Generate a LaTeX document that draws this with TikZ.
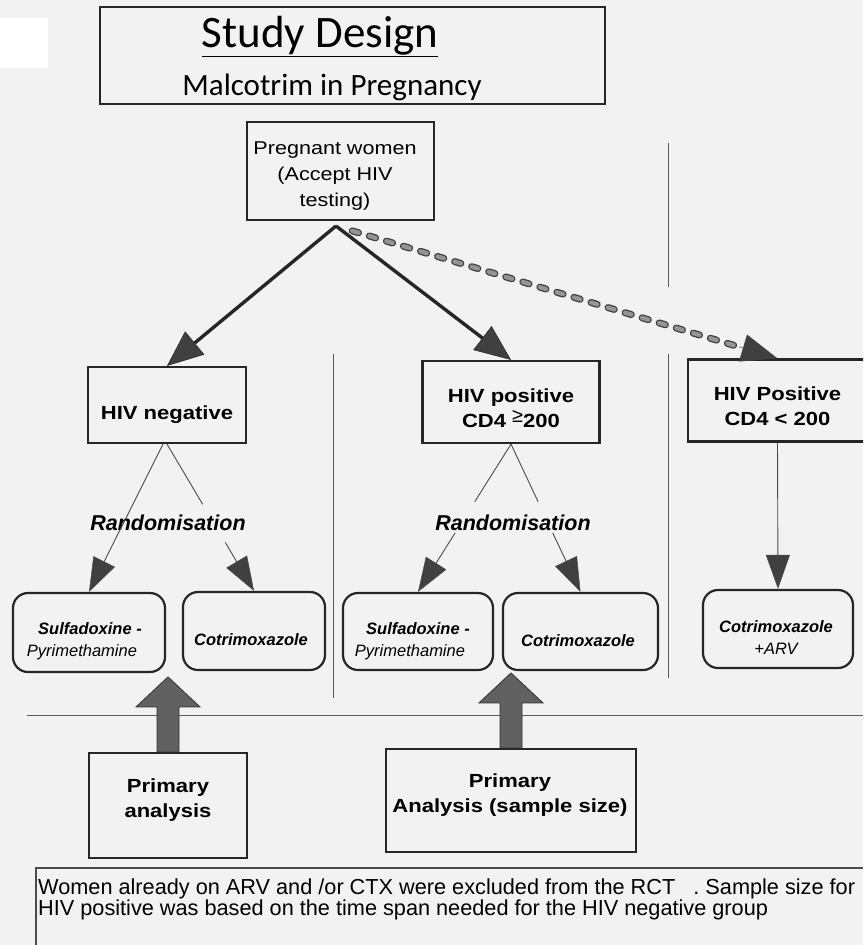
\documentclass[tikz,border=0pt]{standalone}
\usepackage{fontspec}
\setmainfont{Liberation Sans}
\newfontfamily\widesans[FakeStretch=1.16]{Liberation Sans}
\newfontfamily\titlefont{Carlito}
\usetikzlibrary{arrows.meta,calc}
\begin{document}
\begin{tikzpicture}[x=1pt,y=-1pt,
  frame/.style={draw=black!85, line width=2.2pt, inner sep=0pt, fill=none},
  rbox/.style={frame, rounded corners=15pt},
  thinline/.style={draw=black!70, line width=0.9pt},
  thinarrow/.style={thinline, -{Triangle[length=34pt,width=24pt,line width=0.5pt,fill=black!75]}},
  thickarrow/.style={draw=black!85, line width=3.4pt, -{Triangle[length=36pt,width=30pt,line width=0.5pt,fill=black!75]}},
  dashhead/.style={draw=black!75, line width=0.5pt, -{Triangle[length=36pt,width=28pt,line width=0.5pt,fill=black!75]}},
  sepline/.style={draw=black!65, line width=0.9pt},
  dashout/.style={draw=black!75, line width=7pt, line cap=round, dash pattern=on 6.5pt off 11.3pt},
  dashin/.style={draw=black!42, line width=4.4pt, line cap=round, dash pattern=on 6.5pt off 11.3pt},
  bigarrow/.style={fill=black!62, draw=black!80, line width=0.8pt},
  lbl/.style={inner sep=0pt, align=center},
  boldlbl/.style={lbl, font=\widesans\bfseries\fontsize{19}{25}\selectfont},
  druglbl/.style={lbl, font=\itshape\fontsize{16.5}{22}\selectfont},
  randlbl/.style={lbl, anchor=base, font=\bfseries\itshape\fontsize{21.5}{26}\selectfont},
  notelbl/.style={inner sep=0pt, anchor=base west, font=\fontsize{21.7}{21}\selectfont},
]
\useasboundingbox (0,0) rectangle (863,945);
\clip (0,0) rectangle (863,945);
% paper
\fill[black!5] (0,0) rectangle (863,945);
\fill[white] (0,18) rectangle (48,68);

% title
\node[frame, minimum width=505pt, minimum height=97pt] (title) at (352.5,55.5) {};
\node[inner sep=0pt, anchor=base, font=\titlefont\fontsize{45}{52}\selectfont] (t1) at (320,47) {\underline{Study Design}};
\node[inner sep=0pt, anchor=base, font=\titlefont\fontsize{31}{36}\selectfont] (t2) at (332,95) {Malcotrim in Pregnancy};

% separators
\draw[sepline] (333,354) -- (333,698);
\draw[sepline] (668,143) -- (668,287);
\draw[sepline] (668,354) -- (668,678);
\draw[sepline] (27,715) -- (863,715);

% top box
\node[frame, minimum width=187pt, minimum height=98pt] (preg) at (340.5,171) {};
\node[lbl, font=\widesans\fontsize{18.6}{26}\selectfont] (pregtxt) at (335,176) {Pregnant women\\(Accept HIV\\testing)};
\coordinate (apex) at (336,226);

% level 2 boxes
\node[frame, minimum width=158pt, minimum height=76pt] (neg) at (167,405) {};
\node[boldlbl, anchor=base] (negtxt) at (167,419) {HIV negative};
\node[frame, minimum width=177pt, minimum height=82pt] (pos) at (511,402) {};
\node[boldlbl] (postxt) at (511,408.5) {HIV positive\\CD4 \raisebox{5pt}{\normalfont\fontsize{20}{20}\selectfont ≥}200};
\node[frame, minimum width=179pt, minimum height=82pt] (pos2) at (777.5,400.5) {};
\node[boldlbl] (pos2txt) at (777.5,406.5) {HIV Positive\\CD4 < 200};

% main arrows
\draw[thickarrow] (apex) -- (neg.north);
\draw[thickarrow] (apex) -- (pos.north);
\coordinate (dstart) at ($(apex)!17pt!(pos2.north)$);
\coordinate (dend) at ($(pos2.north)!40pt!(apex)$);
\draw[dashout] (dstart) -- (dend);
\draw[dashin] (dstart) -- (dend);
\draw[dashhead] (dend) -- (pos2.north);

% treatment boxes
\node[rbox, minimum width=152pt, minimum height=79pt] (sp1) at (89,632.5) {};
\node[rbox, minimum width=142pt, minimum height=78pt] (ctx1) at (254,631) {};
\node[rbox, minimum width=150pt, minimum height=77pt] (sp2) at (418,631.5) {};
\node[rbox, minimum width=155pt, minimum height=77pt] (ctx2) at (580.5,631.5) {};
\node[rbox, minimum width=150pt, minimum height=78pt] (arv) at (778,629) {};

\node[druglbl] (sp1txt) at (90,641.5) {{\bfseries Sulfadoxine -}\\Pyrimethamine\hspace*{16pt}};
\node[druglbl, anchor=base] (ctx1txt) at (251,645) {\bfseries Cotrimoxazole};
\node[druglbl] (sp2txt) at (418,641.5) {{\bfseries Sulfadoxine -}\\Pyrimethamine\hspace*{16pt}};
\node[druglbl, anchor=base] (ctx2txt) at (578,646) {\bfseries Cotrimoxazole};
\node[druglbl] (arvtxt) at (776,638) {{\bfseries Cotrimoxazole}\\+ARV};

% randomisation
\node[randlbl] (rand1) at (168,530) {Randomisation};
\node[randlbl] (rand2) at (513,530) {Randomisation};

\draw[thinarrow] ($(neg.south)+(-4,0)$) -- (sp1.north);
\draw[thinline] (neg.south) -- ($(neg.south)!0.41!(ctx1.north)$);
\draw[thinarrow] ($(neg.south)!0.67!(ctx1.north)$) -- (ctx1.north);
\draw[thinline] (pos.south) -- ($(pos.south)!0.39!(sp2.north)$);
\draw[thinarrow] ($(pos.south)!0.60!(sp2.north)$) -- (sp2.north);
\draw[thinline] (pos.south) -- ($(pos.south)!0.39!(ctx2.north)$);
\draw[thinarrow] ($(pos.south)!0.60!(ctx2.north)$) -- (ctx2.north);
\draw[thinarrow] (pos2.south) -- (arv.north);

% analysis boxes
\node[frame, minimum width=158pt, minimum height=105pt] (pa) at (168,805.5) {};
\node[boldlbl] (patxt) at (168,800.5) {Primary\\analysis};
\node[frame, minimum width=250pt, minimum height=103pt] (pb) at (511,800.5) {};
\node[boldlbl] (pbtxt) at (510,795.5) {Primary\\Analysis (sample size)};

\foreach \b in {pa,pb}{
  \draw[bigarrow] ($(\b.north)+(-11,0)$) -- ($(\b.north)+(-11,-45)$) -- ($(\b.north)+(-32,-45)$)
     -- ($(\b.north)+(0,-75)$) -- ($(\b.north)+(32,-45)$) -- ($(\b.north)+(11,-45)$)
     -- ($(\b.north)+(11,0)$) -- cycle;
}

% note
\draw[black!70, line width=1.3pt] (36,945) -- (36,868) -- (863,868);
\node[notelbl] (note1) at (38,894) {Women already on ARV and /or CTX were excluded from the RCT\ \ \ . Sample size for};
\node[notelbl] (note2) at (38,915) {HIV positive was based on the time span needed for the HIV negative group};
\end{tikzpicture}
\end{document}
